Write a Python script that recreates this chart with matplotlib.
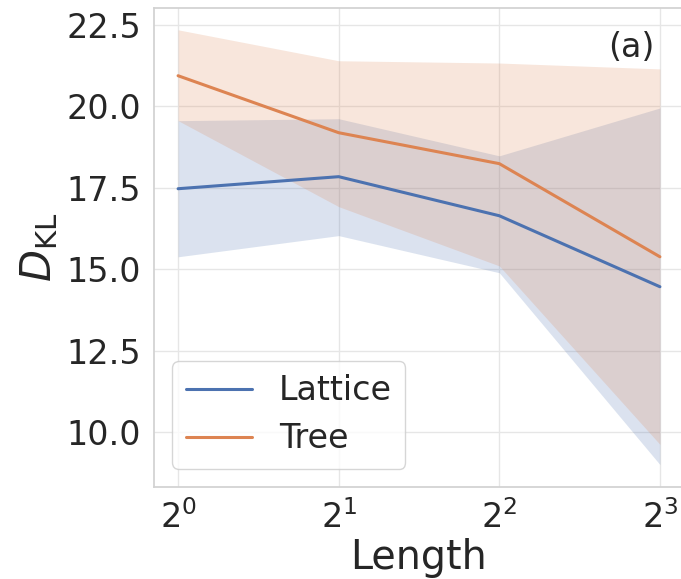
import matplotlib
matplotlib.use("Agg")
import matplotlib.pyplot as plt
import seaborn as sns

lengths = [1, 2, 4, 8]
lattice_mean = [17.47, 17.84, 16.64, 14.46]
lattice_low = [15.38, 16.03, 14.89, 9.00]
lattice_high = [19.56, 19.62, 18.48, 19.95]
tree_mean = [20.94, 19.19, 18.24, 15.38]
tree_low = [19.56, 16.92, 15.10, 9.62]
tree_high = [22.35, 21.40, 21.33, 21.15]
series_names = ["Lattice", "Tree"]

sns.set_theme(style="whitegrid", rc={"grid.color": "#e6e6e6", "axes.edgecolor": "#d2d2d2"})
plt.rcParams['font.family'] = ['DejaVu Sans']
pal = sns.color_palette("deep")

fig = plt.figure(figsize=(6.81, 5.79), dpi=100)
ax = fig.add_axes([154/681, 92/579, 530/681, 479/579])

for name, m, lo, hi, c in [
    (series_names[0], lattice_mean, lattice_low, lattice_high, pal[0]),
    (series_names[1], tree_mean, tree_low, tree_high, pal[1]),
]:
    ax.plot(lengths, m, color=c, lw=2.2, label=name)
    ax.fill_between(lengths, lo, hi, color=c, alpha=0.2, linewidth=0)

ax.set_xscale('log', base=2)
ax.set_xticks(lengths)
ax.set_ylim(8.31, 23.02)
ax.set_yticks([10.0, 12.5, 15.0, 17.5, 20.0, 22.5])
ax.set_yticklabels(["10.0", "12.5", "15.0", "17.5", "20.0", "22.5"])
ax.tick_params(axis='both', labelsize=24)
ax.set_xlabel("Length", fontsize=28.5, labelpad=2)
ax.set_ylabel(r"$D_{\mathrm{KL}}$", fontsize=30, labelpad=4)
ax.text(0.945, 0.918, "(a)", transform=ax.transAxes, ha='right', va='center', fontsize=24)
ax.legend(loc='lower left', fontsize=24, frameon=True, handlelength=2.0,
          borderaxespad=0.55, labelspacing=0.45, handletextpad=0.8)

fig.savefig("out.png", dpi=100)
